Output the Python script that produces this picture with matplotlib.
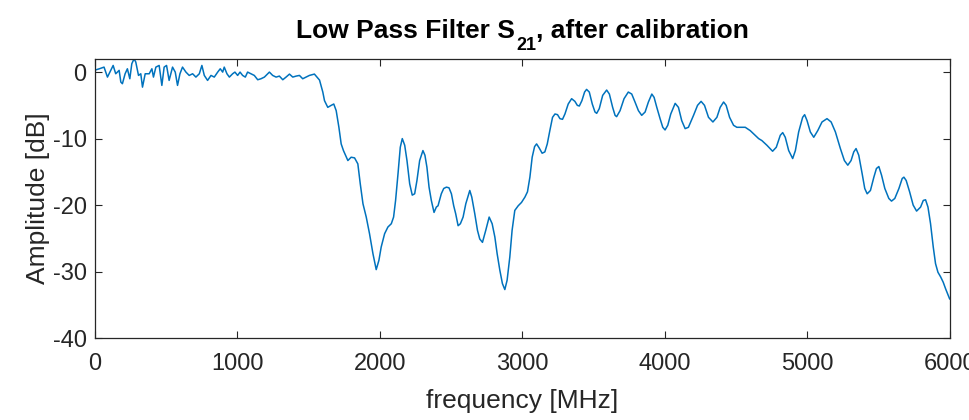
import matplotlib
matplotlib.use("Agg")
import matplotlib.pyplot as plt

# Measured transmission of the low pass filter (S21), after calibration
freq_mhz = [
    0, 30, 63, 87, 110, 127, 145, 169, 181, 192, 211, 227, 244, 258, 274, 286,
    305, 321, 333, 352, 368, 380, 399, 410, 427, 450, 469, 485, 502, 520, 544,
    563, 579, 596, 614, 638, 661, 685, 708, 732, 750, 767, 790, 814, 837, 861,
    879, 896, 907, 926, 943, 966, 982, 1001, 1018, 1036, 1055, 1071, 1095,
    1118, 1142, 1165, 1189, 1224, 1247, 1271, 1294, 1318, 1341, 1365, 1388,
    1412, 1435, 1458, 1482, 1505, 1540,
    1576, 1599, 1611, 1634, 1658, 1676, 1693, 1712, 1728, 1744, 1775, 1798,
    1822, 1845, 1862, 1881, 1904, 1927, 1951, 1974, 1993, 2009, 2033, 2056,
    2080, 2096, 2110, 2127, 2143, 2157, 2174, 2190, 2209, 2227, 2244, 2260,
    2279, 2302, 2316, 2330, 2345, 2361, 2380, 2396, 2408, 2431, 2448, 2467,
    2485, 2502, 2518, 2532, 2549, 2565, 2584, 2603, 2631, 2645, 2666, 2685,
    2701, 2720, 2743, 2767, 2788, 2807, 2823, 2842, 2860, 2877, 2893, 2912,
    2928, 2947, 2971, 2994, 3018, 3036, 3053, 3069, 3086, 3100, 3118, 3139,
    3158, 3175, 3193, 3212, 3229, 3247, 3264, 3282, 3299, 3322, 3346, 3369,
    3386, 3400, 3418, 3437, 3451, 3470, 3491, 3510, 3522, 3540, 3564, 3592,
    3611, 3634, 3651, 3662, 3686, 3714, 3744, 3768, 3791, 3815, 3838, 3862,
    3885, 3909, 3925, 3944, 3967, 3986, 4002, 4021, 4042, 4073, 4096, 4119,
    4143, 4166, 4202, 4230, 4255, 4279, 4307, 4338, 4366, 4389, 4413, 4431,
    4455, 4483, 4506, 4542, 4565, 4600, 4635, 4659, 4682, 4717, 4757, 4783,
    4811, 4828, 4846, 4870, 4898, 4917, 4940, 4968, 4982, 4999, 5022, 5046,
    5074, 5104, 5139, 5168, 5198, 5233, 5261, 5285, 5308, 5327, 5343, 5362,
    5386, 5404, 5421, 5444, 5468, 5486, 5503, 5522, 5545, 5573, 5592, 5615,
    5644, 5667, 5679, 5695, 5719, 5744, 5768, 5796, 5815, 5831, 5848, 5866,
    5885, 5901, 5918, 5937, 5955, 5972, 5995, 6000,
]
s21_db = [
    0.3, 0.5, 0.75, -0.75, 0.26, 1.0, -0.25, 0.26, -1.5, -1.75, -0.25, 0.5,
    -1.0, 1.26, 2.0, 1.5, -0.5, -0.25, -2.26, -0.25, -0.25, -0.25, 0.5, -0.75,
    0.75, 1.0, -2.0, 0.75, 1.0, -1.25, 0.75, 0.0, -2.0, -0.25, 0.75, 0.0,
    -0.5, -0.25, -0.75, -0.25, 1.0, -0.5, -1.25, -0.5, -0.75, 0.0, 0.5, 0.0,
    0.75, -0.25, -0.75, -0.25, 0.0, -0.5, 0.0, -0.5, -0.75, 0.0, -0.25, -0.5,
    -1.15, -1.0, -0.75, 0.0, -0.5, -0.75, -0.6, -1.15, -0.75, -0.3, -0.75,
    -0.6, -0.5, -1.0, -0.75, -0.5, -0.3,
    -1.2, -3.0, -4.3, -5.3, -5.0, -4.8, -5.8, -8.3, -10.8, -11.8, -13.3, -12.8,
    -12.9, -13.8, -16.8, -19.8, -21.8, -24.3, -27.3, -29.7, -28.3, -26.3,
    -24.3, -23.3, -22.8, -21.8, -19.3, -15.3, -11.3, -10.0, -11.0, -13.3,
    -16.8, -18.5, -18.3, -16.3, -13.3, -11.8, -12.5, -14.3, -17.3, -19.3,
    -21.1, -20.3, -20.1, -18.3, -17.5, -17.3, -17.4, -18.3, -20.1, -21.3,
    -23.1, -22.8, -21.8, -19.8, -17.8, -18.8, -21.3, -23.8, -25.1, -25.6,
    -23.8, -21.8, -22.8, -24.8, -27.3, -29.8, -31.8, -32.7, -31.3, -27.8,
    -23.8, -20.8, -20.1, -19.6, -18.8, -18.0, -15.8, -12.8, -11.2, -10.8,
    -11.4, -12.2, -12.0, -10.8, -8.8, -6.8, -6.3, -6.4, -7.0, -7.1, -6.3,
    -4.8, -4.0, -4.4, -5.0, -5.1, -4.3, -3.0, -2.6, -3.0, -4.8, -6.0, -6.2,
    -5.5, -3.5, -2.7, -3.3, -5.3, -6.5, -6.7, -5.8, -4.0, -3.0, -3.3, -4.5,
    -5.8, -6.5, -6.0, -4.5, -3.3, -3.8, -5.3, -7.0, -8.3, -8.7, -8.0, -6.3,
    -4.7, -5.3, -7.3, -8.5, -8.3, -6.5, -5.0, -4.4, -5.0, -6.8, -7.5, -6.8,
    -5.3, -4.5, -5.0, -6.8, -8.0, -8.3, -8.3, -8.3, -8.8, -9.5, -10.0, -10.3,
    -11.0, -11.9, -11.3, -9.5, -9.1, -9.8, -11.8, -13.0, -11.8, -9.0, -6.8,
    -6.4, -7.3, -9.0, -9.8, -8.8, -7.5, -7.0, -7.5, -9.0, -11.5, -13.3, -14.0,
    -13.3, -12.0, -11.5, -12.5, -15.3, -17.5, -18.3, -17.8, -15.8, -14.5,
    -14.2, -15.5, -17.5, -19.0, -19.4, -19.0, -17.5, -16.0, -15.8, -16.3,
    -18.0, -20.0, -20.9, -20.3, -19.3, -19.2, -20.3, -22.8, -26.3, -28.8,
    -30.1, -30.8, -31.6, -32.6, -33.8, -34.1,
]

x_ticks = [0, 1000, 2000, 3000, 4000, 5000, 6000]
y_ticks = [-40, -30, -20, -10, 0]

# Title pieces: main text, subscript, remainder
title_head = "Low Pass Filter S"
title_sub = "21"
title_tail = ", after calibration"

family = "Liberation Sans"
plt.rcParams["font.family"] = [family, "DejaVu Sans"]
plt.rcParams["axes.unicode_minus"] = False

axis_color = "#262626"
W, H = 970, 420

fig = plt.figure(figsize=(W / 100, H / 100), dpi=100)
ax = fig.add_axes([0.098, 0.195, 0.881, 0.665])

ax.plot(freq_mhz, s21_db, color="#0072BD", linewidth=1.1)

ax.set_xlim(0, 6000)
ax.set_ylim(-40, 2)
ax.set_xticks(x_ticks)
ax.set_yticks(y_ticks)
ax.tick_params(direction="in", length=5, width=0.8, top=True, right=True,
               labelsize=17, colors=axis_color)
ax.tick_params(axis="x", pad=11)
ax.tick_params(axis="y", pad=6)
for sp in ax.spines.values():
    sp.set_color(axis_color)
    sp.set_linewidth(0.9)

ax.set_xlabel("frequency [MHz]", fontsize=19, color=axis_color, labelpad=10)
ax.set_ylabel("Amplitude [dB]", fontsize=19, color=axis_color, labelpad=2)

# Title with a deep subscript, assembled from three text pieces
main_kw = dict(fontsize=19, fontweight="bold", color="black", va="baseline", ha="left")
sub_kw = dict(fontsize=13, fontweight="bold", color="black", va="baseline", ha="left")
t_head = fig.text(0, 0, title_head, **main_kw)
t_sub = fig.text(0, 0, title_sub, **sub_kw)
t_tail = fig.text(0, 0, title_tail, **main_kw)
renderer = fig.canvas.get_renderer()
w_head = t_head.get_window_extent(renderer).width
w_sub = t_sub.get_window_extent(renderer).width
w_tail = t_tail.get_window_extent(renderer).width
gap = 1.5
total = w_head + gap + w_sub + w_tail
pos = ax.get_position()
center = (pos.x0 + pos.width / 2) * W
x0 = center - total / 2
base_main = 1 - 38 / H
base_sub = 1 - 50 / H
t_head.set_position((x0 / W, base_main))
t_sub.set_position(((x0 + w_head + gap) / W, base_sub))
t_tail.set_position(((x0 + w_head + gap + w_sub) / W, base_main))

fig.savefig("out.png", dpi=100)
